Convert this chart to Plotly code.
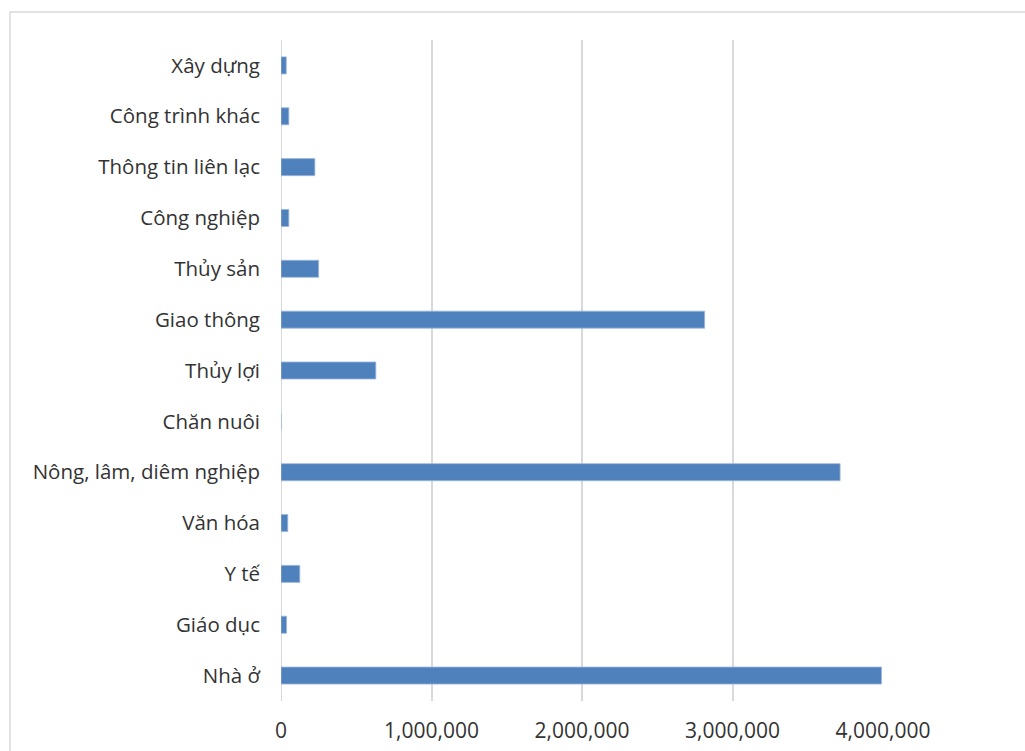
import plotly.graph_objects as go

# Categories listed bottom to top, as drawn on the vertical axis
categories = [
    "Nhà ở",
    "Giáo dục",
    "Y tế",
    "Văn hóa",
    "Nông, lâm, diêm nghiệp",
    "Chăn nuôi",
    "Thủy lợi",
    "Giao thông",
    "Thủy sản",
    "Công nghiệp",
    "Thông tin liên lạc",
    "Công trình khác",
    "Xây dựng",
]

values = [
    3990000,
    37000,
    125000,
    45000,
    3715000,
    0,
    630000,
    2815000,
    250000,
    52000,
    225000,
    52000,
    35000,
]

x_tickvals = [0, 1000000, 2000000, 3000000, 4000000]
x_ticktext = ["0", "1,000,000", "2,000,000", "3,000,000", "4,000,000"]

W, H = 1025, 751
PLOT_L, PLOT_R, PLOT_T, PLOT_B = 281, 883, 40, 701

font_family = "Open Sans, Lato, Liberation Sans, sans-serif"
text_color = "#333333"

fig = go.Figure(
    go.Bar(
        x=values,
        y=categories,
        orientation="h",
        marker=dict(color="#4F81BD", line=dict(color="#9DB7DC", width=0.8)),
        hoverinfo="x+y",
    )
)


def px_to_paper_x(px):
    return (px - PLOT_L) / (PLOT_R - PLOT_L)


def px_to_paper_y(py):
    return (PLOT_B - py) / (PLOT_B - PLOT_T)


# Light frame around the chart area
fig.add_shape(
    type="rect",
    xref="paper",
    yref="paper",
    x0=px_to_paper_x(10),
    x1=px_to_paper_x(1040),
    y0=px_to_paper_y(770),
    y1=px_to_paper_y(12),
    line=dict(color="#D9D9D9", width=1.5),
    fillcolor="rgba(0,0,0,0)",
    layer="below",
)

fig.update_layout(
    width=W,
    height=H,
    margin=dict(l=PLOT_L, r=W - PLOT_R, t=PLOT_T, b=H - PLOT_B, pad=0, autoexpand=False),
    paper_bgcolor="white",
    plot_bgcolor="white",
    bargap=0.665,
    showlegend=False,
    font=dict(family=font_family, size=20, color=text_color),
    xaxis=dict(
        range=[0, 4000000],
        tickvals=x_tickvals,
        ticktext=x_ticktext,
        showgrid=True,
        gridcolor="#D9D9D9",
        gridwidth=2,
        zeroline=False,
        showline=False,
        ticks="",
        ticklabelstandoff=15,
        tickfont=dict(size=21, color=text_color),
        automargin=False,
        fixedrange=True,
    ),
    yaxis=dict(
        categoryorder="array",
        categoryarray=categories,
        showgrid=False,
        zeroline=False,
        showline=False,
        ticks="",
        ticklabelstandoff=20,
        tickfont=dict(size=20.5, color=text_color),
        automargin=False,
        fixedrange=True,
    ),
)

# Vertical axis line at zero
fig.add_shape(
    type="line",
    xref="x",
    yref="paper",
    x0=0,
    x1=0,
    y0=0,
    y1=1,
    line=dict(color="#D9D9D9", width=2),
    layer="below",
)

fig.write_html("out.html")
